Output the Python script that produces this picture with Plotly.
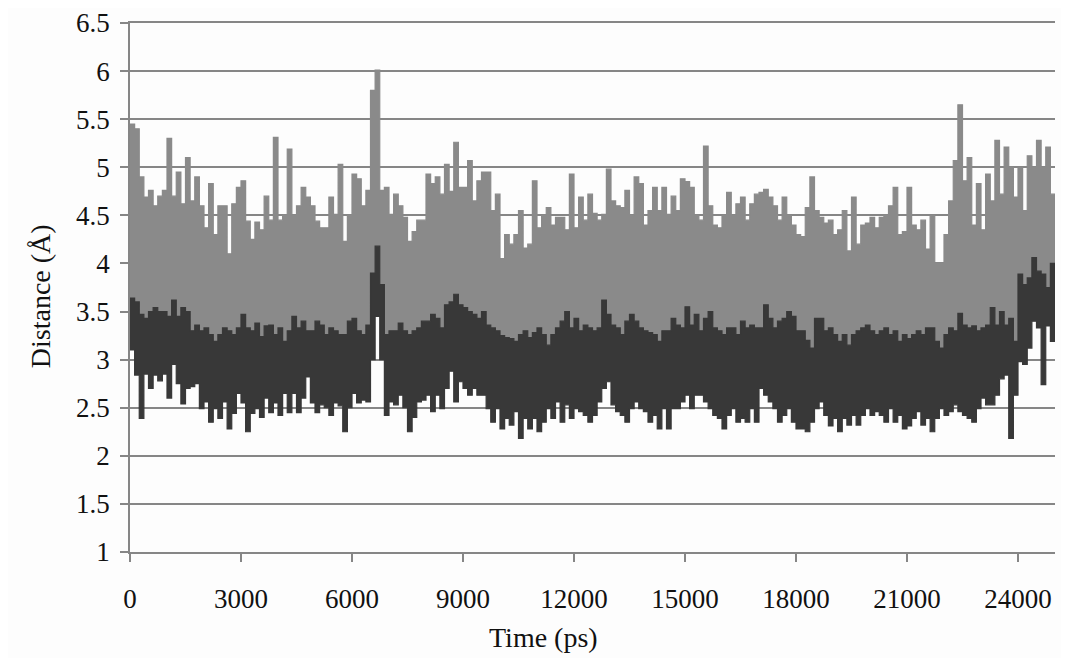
import plotly.graph_objects as go

# Distance traces sampled in 125 ps windows: upper and lower extent of each trace per window
TIME_STEP_PS = 125
N_WINDOWS = 200

GREY_HI = [
    5.45, 5.40, 4.90, 4.69, 4.76, 4.60, 4.70, 4.76, 5.30, 4.70, 4.95, 4.62, 5.10, 4.65, 4.90, 4.60, 4.37, 4.83, 4.30, 4.60,
    4.60, 4.10, 4.62, 4.79, 4.86, 4.44, 4.25, 4.43, 4.35, 4.70, 4.45, 5.31, 4.45, 4.50, 5.19, 4.50, 4.60, 4.79, 4.69, 4.60,
    4.44, 4.37, 4.37, 4.69, 4.51, 5.03, 4.23, 4.50, 4.93, 4.88, 4.60, 4.76, 5.80, 6.01, 4.76, 4.79, 4.51, 4.72, 4.60, 4.48,
    4.23, 4.33, 4.45, 4.45, 4.93, 4.83, 4.90, 4.72, 5.03, 4.75, 5.26, 4.79, 4.79, 5.07, 4.65, 4.86, 4.95, 4.95, 4.55, 4.72,
    4.05, 4.30, 4.20, 4.30, 4.55, 4.16, 4.20, 4.86, 4.37, 4.50, 4.58, 4.40, 4.48, 4.48, 4.35, 4.93, 4.37, 4.69, 4.45, 4.72,
    4.52, 4.45, 4.51, 4.98, 4.65, 4.60, 4.58, 4.76, 4.50, 4.90, 4.83, 4.40, 4.55, 4.79, 4.55, 4.79, 4.51, 4.70, 4.55, 4.88,
    4.85, 4.79, 4.50, 4.45, 5.22, 4.60, 4.40, 4.37, 4.50, 4.74, 4.50, 4.62, 4.69, 4.45, 4.62, 4.72, 4.74, 4.77, 4.69, 4.60,
    4.45, 4.69, 4.50, 4.40, 4.30, 4.28, 4.58, 4.90, 4.55, 4.48, 4.42, 4.45, 4.30, 4.35, 4.55, 4.13, 4.69, 4.20, 4.40, 4.42,
    4.48, 4.37, 4.48, 4.50, 4.60, 4.79, 4.30, 4.33, 4.79, 4.40, 4.35, 4.45, 4.15, 4.50, 4.00, 4.00, 4.30, 4.65, 5.07, 5.65,
    4.86, 5.10, 4.40, 4.83, 4.35, 4.93, 4.65, 5.28, 4.72, 5.21, 5.00, 4.69, 5.00, 4.55, 5.12, 5.00, 5.28, 5.00, 5.21, 4.72,
]
GREY_LO = [
    3.20, 3.15, 3.10, 3.10, 3.15, 3.10, 3.10, 3.15, 3.05, 3.10, 3.10, 3.05, 3.10, 3.05, 3.10, 3.05, 3.10, 3.05, 3.05, 3.10,
    3.05, 3.10, 3.05, 3.10, 3.05, 3.05, 3.10, 3.05, 3.05, 3.10, 3.05, 3.05, 3.10, 3.05, 3.05, 3.10, 3.05, 3.05, 3.10, 3.05,
    3.05, 3.10, 3.05, 3.05, 3.10, 3.05, 3.05, 3.10, 3.05, 3.10, 3.05, 3.10, 3.55, 3.95, 3.55, 3.10, 3.05, 3.05, 3.10, 3.05,
    3.05, 3.05, 3.10, 3.15, 3.10, 3.15, 3.20, 3.15, 3.20, 3.25, 3.20, 3.20, 3.15, 3.20, 3.15, 3.10, 3.15, 3.10, 3.05, 3.05,
    3.00, 3.05, 3.00, 3.00, 3.05, 3.05, 3.00, 3.05, 3.05, 3.00, 3.00, 3.05, 3.05, 3.10, 3.10, 3.05, 3.10, 3.05, 3.05, 3.05,
    3.05, 3.10, 3.10, 3.15, 3.10, 3.05, 3.05, 3.10, 3.10, 3.10, 3.05, 3.05, 3.05, 3.05, 3.00, 3.05, 3.05, 3.10, 3.05, 3.05,
    3.10, 3.10, 3.10, 3.05, 3.10, 3.10, 3.05, 3.05, 3.05, 3.05, 3.05, 3.05, 3.10, 3.05, 3.05, 3.05, 3.05, 3.10, 3.10, 3.05,
    3.10, 3.10, 3.10, 3.10, 3.05, 3.05, 3.00, 3.00, 3.05, 3.10, 3.05, 3.05, 3.05, 3.00, 3.05, 3.00, 3.05, 3.05, 3.05, 3.05,
    3.05, 3.05, 3.05, 3.05, 3.05, 3.05, 3.00, 3.05, 3.00, 3.05, 3.05, 3.05, 3.05, 3.05, 3.00, 3.00, 3.05, 3.05, 3.05, 3.10,
    3.10, 3.05, 3.10, 3.05, 3.05, 3.10, 3.15, 3.10, 3.15, 3.10, 3.15, 3.10, 3.40, 3.45, 3.45, 3.55, 3.50, 3.50, 3.45, 3.50,
]
DARK_HI = [
    3.64, 3.60, 3.47, 3.43, 3.50, 3.54, 3.50, 3.50, 3.45, 3.62, 3.45, 3.54, 3.50, 3.30, 3.36, 3.30, 3.33, 3.26, 3.19, 3.26,
    3.33, 3.30, 3.26, 3.33, 3.47, 3.33, 3.30, 3.38, 3.24, 3.35, 3.36, 3.26, 3.33, 3.19, 3.30, 3.45, 3.33, 3.40, 3.30, 3.30,
    3.40, 3.36, 3.26, 3.33, 3.30, 3.26, 3.26, 3.40, 3.43, 3.30, 3.26, 3.36, 3.90, 4.18, 3.78, 3.26, 3.30, 3.30, 3.38, 3.30,
    3.26, 3.30, 3.33, 3.40, 3.40, 3.47, 3.43, 3.33, 3.57, 3.60, 3.68, 3.57, 3.54, 3.50, 3.47, 3.43, 3.50, 3.36, 3.33, 3.30,
    3.25, 3.23, 3.22, 3.19, 3.26, 3.30, 3.23, 3.28, 3.33, 3.26, 3.15, 3.26, 3.33, 3.40, 3.50, 3.33, 3.43, 3.30, 3.36, 3.33,
    3.30, 3.33, 3.62, 3.47, 3.36, 3.33, 3.26, 3.40, 3.47, 3.40, 3.33, 3.30, 3.28, 3.26, 3.19, 3.30, 3.30, 3.43, 3.36, 3.33,
    3.55, 3.36, 3.47, 3.30, 3.43, 3.50, 3.33, 3.30, 3.26, 3.33, 3.33, 3.26, 3.40, 3.33, 3.36, 3.33, 3.33, 3.57, 3.43, 3.33,
    3.40, 3.43, 3.50, 3.45, 3.30, 3.30, 3.20, 3.12, 3.43, 3.43, 3.30, 3.33, 3.26, 3.19, 3.26, 3.15, 3.26, 3.30, 3.33, 3.36,
    3.30, 3.26, 3.30, 3.33, 3.26, 3.30, 3.19, 3.26, 3.22, 3.26, 3.30, 3.26, 3.33, 3.33, 3.19, 3.12, 3.26, 3.33, 3.30, 3.48,
    3.36, 3.33, 3.35, 3.30, 3.33, 3.36, 3.54, 3.36, 3.50, 3.36, 3.43, 3.19, 3.89, 3.78, 3.85, 4.06, 3.92, 3.89, 3.75, 4.00,
]
DARK_LO = [
    3.10, 2.84, 2.39, 2.85, 2.70, 2.84, 2.78, 2.85, 2.60, 2.95, 2.75, 2.54, 2.70, 2.72, 2.75, 2.49, 2.56, 2.35, 2.49, 2.39,
    2.56, 2.28, 2.44, 2.65, 2.55, 2.25, 2.44, 2.49, 2.40, 2.60, 2.45, 2.55, 2.42, 2.65, 2.45, 2.65, 2.45, 2.60, 2.82, 2.55,
    2.45, 2.53, 2.50, 2.42, 2.55, 2.52, 2.25, 2.50, 2.65, 2.55, 2.58, 2.56, 3.00, 3.45, 3.00, 2.42, 2.56, 2.53, 2.63, 2.50,
    2.25, 2.40, 2.56, 2.58, 2.63, 2.46, 2.63, 2.49, 2.70, 2.88, 2.56, 2.77, 2.70, 2.63, 2.70, 2.63, 2.63, 2.49, 2.35, 2.49,
    2.28, 2.39, 2.32, 2.46, 2.18, 2.39, 2.28, 2.39, 2.25, 2.35, 2.49, 2.39, 2.56, 2.35, 2.53, 2.39, 2.49, 2.46, 2.42, 2.35,
    2.42, 2.56, 2.70, 2.77, 2.53, 2.46, 2.42, 2.35, 2.49, 2.56, 2.49, 2.46, 2.35, 2.42, 2.28, 2.49, 2.28, 2.49, 2.49, 2.56,
    2.63, 2.49, 2.63, 2.63, 2.56, 2.49, 2.42, 2.39, 2.28, 2.42, 2.49, 2.35, 2.39, 2.35, 2.49, 2.35, 2.70, 2.63, 2.56, 2.49,
    2.35, 2.42, 2.49, 2.35, 2.28, 2.28, 2.25, 2.35, 2.49, 2.56, 2.42, 2.31, 2.39, 2.25, 2.39, 2.32, 2.42, 2.32, 2.42, 2.49,
    2.42, 2.46, 2.42, 2.35, 2.49, 2.35, 2.42, 2.28, 2.31, 2.39, 2.46, 2.32, 2.39, 2.25, 2.39, 2.49, 2.42, 2.46, 2.53, 2.46,
    2.42, 2.39, 2.35, 2.49, 2.60, 2.53, 2.53, 2.63, 2.80, 2.84, 2.18, 2.63, 2.98, 2.95, 3.12, 3.40, 3.33, 2.74, 3.35, 3.19,
]

X_TICKS = [0, 3000, 6000, 9000, 12000, 15000, 18000, 21000, 24000]
Y_TICKS = [1, 1.5, 2, 2.5, 3, 3.5, 4, 4.5, 5, 5.5, 6, 6.5]
Y_LABELS = ['1', '1.5', '2', '2.5', '3', '3.5', '4', '4.5', '5', '5.5', '6', '6.5']

COLORS = {
    'Grey': '#8a8a8a',
    'Dark': '#383838',
    'Grid': '#868686',
    'Text': '#111111',
}
FONT = 'Liberation Serif, Times New Roman, serif'


def band(hi, lo, color):
    """One filled outline per trace: stepped upper edge out, stepped lower edge back."""
    xs, ys = [], []
    for i, h in enumerate(hi):
        xs += [i * TIME_STEP_PS, (i + 1) * TIME_STEP_PS]
        ys += [h, h]
    for i in reversed(range(len(lo))):
        xs += [(i + 1) * TIME_STEP_PS, i * TIME_STEP_PS]
        ys += [lo[i], lo[i]]
    return go.Scatter(
        x=xs, y=ys,
        mode='lines',
        fill='toself',
        fillcolor=color,
        line=dict(color=color, width=1.2),
        showlegend=False,
        hoverinfo='skip',
    )


fig = go.Figure()
fig.add_trace(band(GREY_HI, GREY_LO, COLORS['Grey']))
fig.add_trace(band(DARK_HI, DARK_LO, COLORS['Dark']))

# the page body adds an 8px offset, so the figure is 8px smaller and margins are shifted
fig.update_layout(
    width=1061,
    height=650,
    margin=dict(l=122, r=14, t=15, b=106),
    paper_bgcolor='#fdfdfd',
    plot_bgcolor='#fdfdfd',
    font=dict(family=FONT, size=27, color=COLORS['Text']),
    xaxis=dict(
        range=[0, 25000],
        tickvals=X_TICKS,
        ticktext=[str(v) for v in X_TICKS],
        showgrid=False,
        zeroline=False,
        showline=True,
        linecolor=COLORS['Grid'],
        linewidth=1.5,
        mirror=True,
        ticks='outside',
        ticklen=8,
        tickwidth=1.5,
        tickcolor=COLORS['Grid'],
        ticklabelstandoff=14,
        automargin=False,
    ),
    yaxis=dict(
        range=[1, 6.5],
        tickvals=Y_TICKS,
        ticktext=Y_LABELS,
        showgrid=True,
        gridcolor=COLORS['Grid'],
        gridwidth=1.5,
        zeroline=False,
        showline=True,
        linecolor=COLORS['Grid'],
        linewidth=1.5,
        ticks='outside',
        ticklen=8,
        tickwidth=1.5,
        tickcolor=COLORS['Grid'],
        ticklabelstandoff=5,
        automargin=False,
    ),
    annotations=[
        dict(text='Time (ps)', xref='paper', yref='paper', x=0.447, y=-0.161,
             xanchor='center', yanchor='middle', showarrow=False,
             font=dict(family=FONT, size=28, color=COLORS['Text'])),
        dict(text='Distance (Å)', xref='paper', yref='paper', x=-0.096, y=0.484,
             xanchor='center', yanchor='middle', textangle=-90, showarrow=False,
             font=dict(family=FONT, size=28, color=COLORS['Text'])),
    ],
)

fig.write_html("out.html")
